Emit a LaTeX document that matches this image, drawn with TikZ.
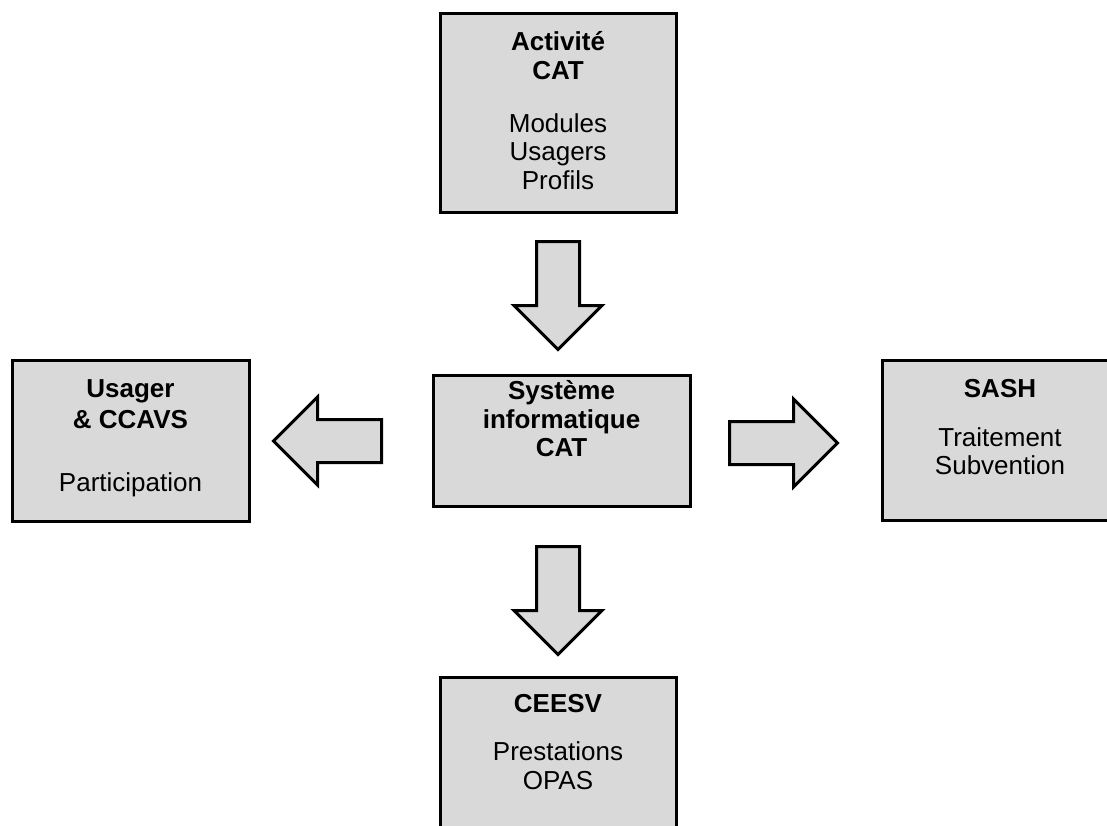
\documentclass[tikz,border=0pt]{standalone}
\usepackage{fontspec}
\setmainfont{Liberation Sans}
\usepackage{xcolor}
\usepackage{tikz}
\usetikzlibrary{positioning,shapes.arrows}
\definecolor{boxgray}{RGB}{217,217,217}

\tikzset{
  bloc/.style={rectangle, draw, fill=boxgray, line width=3pt, inner sep=0pt},
  texte/.style={align=center, inner sep=0pt, font=\fontsize{26}{28.5}\selectfont},
  fleche/.style={single arrow, draw, fill=boxgray, line width=3pt,
    inner xsep=0pt, inner ysep=20pt,
    minimum width=85pt, single arrow head extend=22.5pt, minimum height=108pt},
  flechebas/.style={fleche, shape border rotate=270, inner xsep=20pt, inner ysep=0pt}
}

\begin{document}
\begin{tikzpicture}[x=1pt, y=-1pt]
\useasboundingbox (0,0) rectangle (1107,825);

% Activite CAT (top)
\node[bloc, minimum width=236pt, minimum height=199pt] (act) at (558,112.5) {};
\node[texte] (acttxt) at (558,110.5) {\textbf{Activité}\\\textbf{CAT}\\[24.5pt]Modules\\Usagers\\Profils};

% Systeme informatique (centre)
\node[bloc, minimum width=257pt, minimum height=131pt] (sys) at (561.5,440.5) {};
\node[texte] (systxt) at (561.5,419) {\textbf{Système}\\\textbf{informatique}\\\textbf{CAT}};

% Usager (left)
\node[bloc, minimum width=237pt, minimum height=161pt] (usa) at (130.5,440.5) {};
\node[texte] (usatxt) at (130.5,438) {\textbf{Usager}\\[2.5pt]\textbf{\& CCAVS}\\[34pt]Participation};

% SASH (right)
\node[bloc, minimum width=236pt, minimum height=160pt] (sash) at (1000,440) {};
\node[texte] (sashtxt) at (1000,427) {\textbf{SASH}\\[20.5pt]Traitement\\Subvention};

% CEESV (bottom)
\node[bloc, minimum width=236pt, minimum height=199pt] (cee) at (558,776.5) {};
\node[texte] (ceetxt) at (558,742) {\textbf{CEESV}\\[19.5pt]Prestations\\OPAS};

% block arrows
\node[flechebas, anchor=tail] (f1) at (558,240) {};
\node[fleche, shape border rotate=180, anchor=tail] (f2) at (383,441) {};
\node[fleche, anchor=tail] (f3) at (728,443) {};
\node[flechebas, anchor=tail] (f4) at (558,545) {};
\end{tikzpicture}
\end{document}
